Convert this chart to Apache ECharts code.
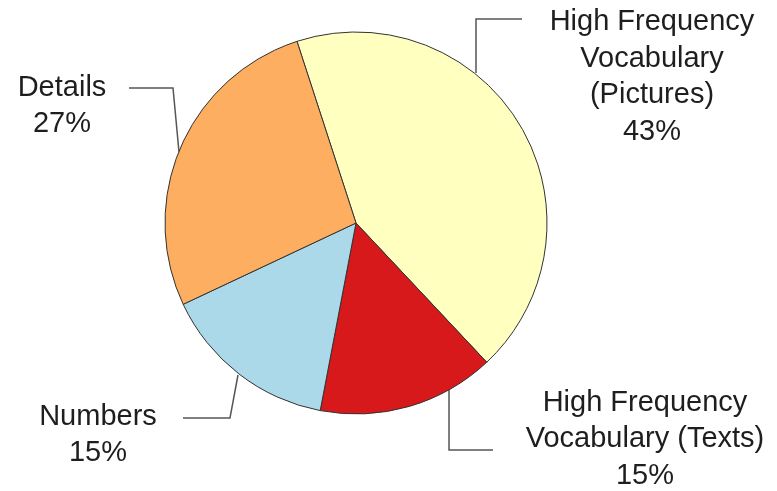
<!DOCTYPE html>
<html>
<head>
<meta charset="utf-8">
<script src="https://cdn.jsdelivr.net/npm/echarts@6/dist/echarts.min.js"></script>
<style>
html,body{margin:0;padding:0;background:#fff;}
#chart{width:777px;height:491px;}
</style>
</head>
<body>
<div id="chart"></div>
<script>
// Data
const categories = [
  'High Frequency Vocabulary (Pictures)',
  'High Frequency Vocabulary (Texts)',
  'Numbers',
  'Details'
];
const labelTexts = [
  'High Frequency\nVocabulary\n(Pictures)',
  'High Frequency\nVocabulary (Texts)',
  'Numbers',
  'Details'
];
const values = [43, 15, 15, 27];
const colors = ['#FFFFBF', '#D7191C', '#ABD9E9', '#FDAE61'];

// Label placement (styling only)
const labelLayouts = [
  {x: 652, y: 77,  line: [[476, 73], [476, 19], [522, 19]]},
  {x: 645, y: 439, line: [[449, 390], [449, 450], [493, 450]]},
  {x: 98,  y: 435, line: [[238, 375], [230, 418], [183, 418]]},
  {x: 62,  y: 106, line: [[179, 152], [173, 88], [129, 88]]}
];

const chart = echarts.init(document.getElementById('chart'), null, {renderer: 'canvas'});
chart.setOption({
  animation: false,
  backgroundColor: '#ffffff',
  series: [{
    type: 'pie',
    center: [356, 223],
    radius: 191,
    startAngle: 108,
    clockwise: true,
    avoidLabelOverlap: false,
    data: categories.map((c, i) => ({
      name: c,
      value: values[i],
      itemStyle: {color: colors[i]}
    })),
    itemStyle: {borderColor: '#333333', borderWidth: 1},
    label: {
      show: true,
      position: 'outside',
      formatter: p => labelTexts[p.dataIndex] + '\n' + p.value + '%',
      fontFamily: '"Liberation Sans", Arial, sans-serif',
      fontSize: 29,
      lineHeight: 36.5,
      color: '#1e1e1e',
      align: 'center'
    },
    labelLine: {
      show: true,
      lineStyle: {color: '#555555', width: 1.5}
    },
    labelLayout: function (params) {
      const l = labelLayouts[params.dataIndex];
      return {
        x: l.x, y: l.y, align: 'center', verticalAlign: 'middle',
        labelLinePoints: l.line
      };
    },
    emphasis: {disabled: true}
  }]
});
</script>
</body>
</html>
